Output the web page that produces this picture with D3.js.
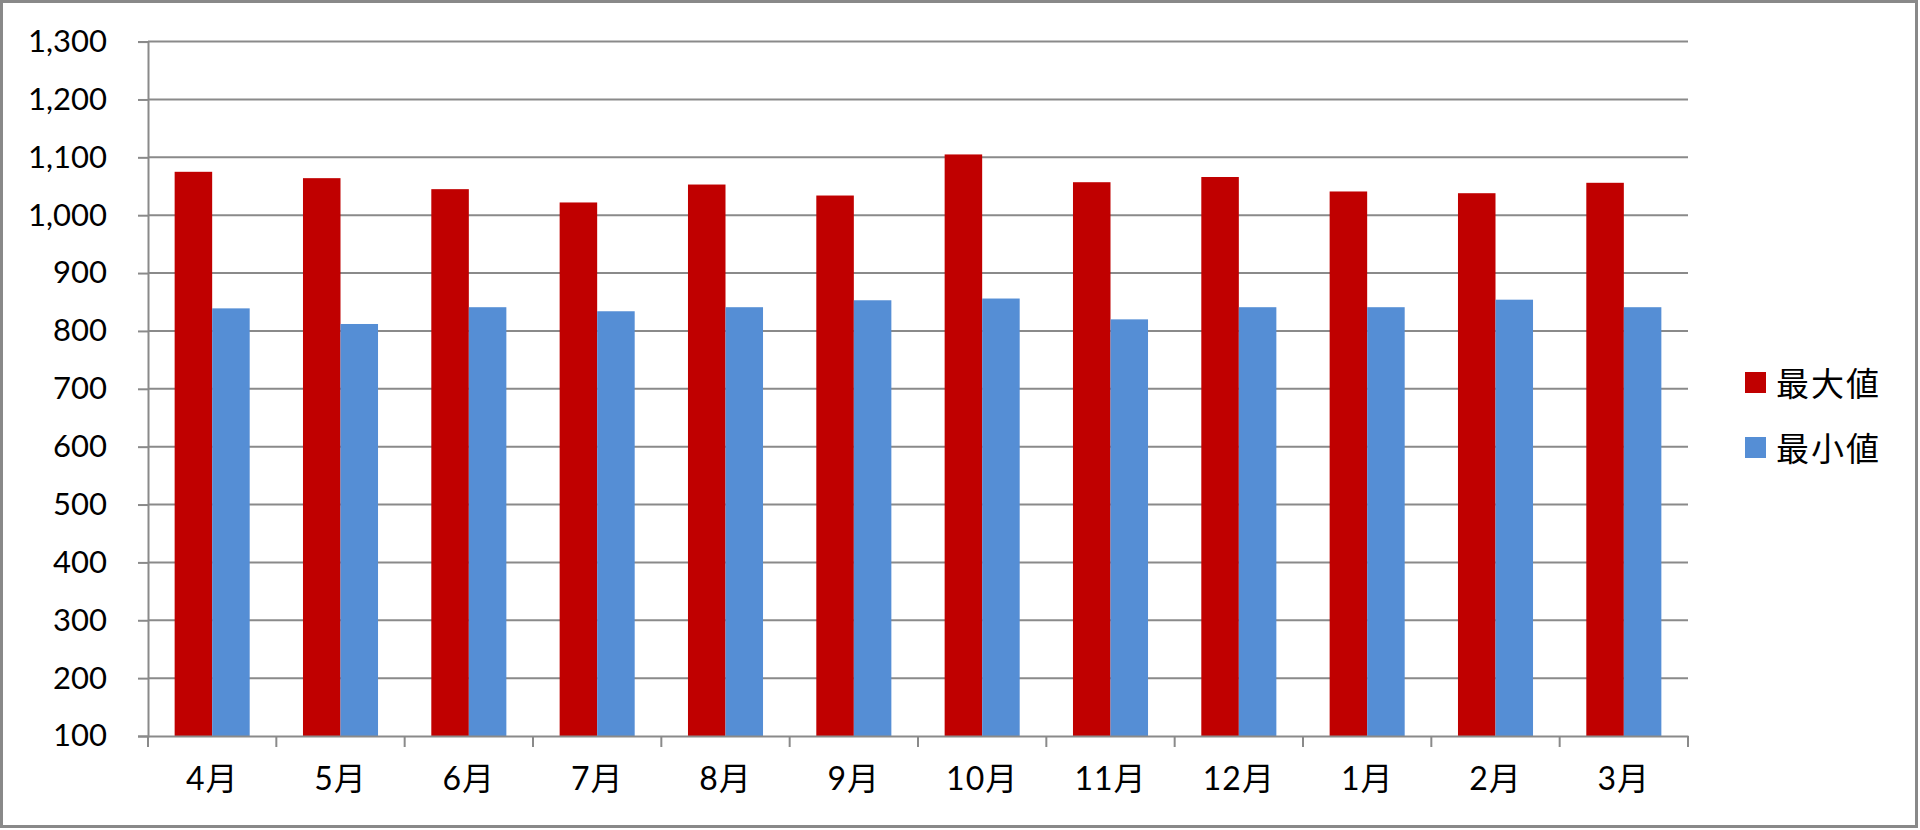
<!DOCTYPE html>
<html>
<head>
<meta charset="utf-8">
<script src="https://cdn.jsdelivr.net/npm/d3@7/dist/d3.min.js"></script>
<style>
  html, body { margin: 0; padding: 0; background: #fff; }
  svg { display: block; }
  text { font-family: Lato, "Noto Sans CJK JP", sans-serif; fill: #000; }
</style>
</head>
<body>
<svg id="chart" width="1920" height="830"></svg>
<script>
const months = ["4月","5月","6月","7月","8月","9月","10月","11月","12月","1月","2月","3月"];
const seriesNames = ["最大値","最小値"];
const maxValues = [1075, 1064, 1045, 1022, 1053, 1034, 1105, 1057, 1066, 1041, 1038, 1056];
const minValues = [839, 812, 841, 834, 841, 853, 856, 820, 841, 841, 854, 841];
const yTicks = [100,200,300,400,500,600,700,800,900,1000,1100,1200,1300];
const colors = ["#C00000", "#558ED5"];

(function () {
const svg = d3.select("#chart");
const W = 1920, H = 830;
const plotLeft = 148, plotRight = 1688, plotTop = 41.6, plotBottom = 736;

// outer border
svg.append("rect").attr("x", 1.5).attr("y", 1.5).attr("width", W - 5).attr("height", H - 5)
  .attr("fill", "#fff").attr("stroke", "#898989").attr("stroke-width", 3);

const y = d3.scaleLinear().domain([100, 1300]).range([plotBottom, plotTop]);
const x0 = d3.scaleBand().domain(months).range([plotLeft, plotRight]).paddingInner(0).paddingOuter(0);
const x1 = d3.scaleBand().domain(seriesNames).range([0, x0.bandwidth()]).paddingInner(0).paddingOuter(0.71);

// gridlines
svg.append("g").selectAll("line").data(yTicks.filter(d => d !== 100)).join("line")
  .attr("x1", plotLeft).attr("x2", plotRight)
  .attr("y1", d => y(d)).attr("y2", d => y(d))
  .attr("stroke", "#8a8a8a").attr("stroke-width", 2);

// bars
const data = months.map((m, i) => ({ month: m, values: [maxValues[i], minValues[i]] }));
const groups = svg.append("g").selectAll("g").data(data).join("g")
  .attr("transform", d => `translate(${x0(d.month)},0)`);
groups.selectAll("rect").data(d => seriesNames.map((s, j) => ({ s, v: d.values[j], j }))).join("rect")
  .attr("x", d => x1(d.s)).attr("width", x1.bandwidth())
  .attr("y", d => y(d.v)).attr("height", d => y(100) - y(d.v))
  .attr("fill", d => colors[d.j]);

// y axis
const yAxis = d3.axisLeft(y).tickValues(yTicks).tickSize(10).tickPadding(31)
  .tickFormat(d3.format(","));
const gy = svg.append("g").attr("transform", `translate(${plotLeft},0)`).call(yAxis);
gy.select(".domain").attr("stroke", "#8a8a8a").attr("stroke-width", 2);
gy.selectAll(".tick line").attr("stroke", "#8a8a8a").attr("stroke-width", 2);
gy.selectAll(".tick text").attr("font-size", 31).attr("font-family", "Lato, 'Noto Sans CJK JP', sans-serif").attr("fill", "#000");

// x axis
const xAxis = d3.axisBottom(x0).tickSize(0).tickPadding(0);
const gx = svg.append("g").attr("transform", `translate(0,${plotBottom})`).call(xAxis);
gx.select(".domain").attr("stroke", "#8a8a8a").attr("stroke-width", 2);
gx.selectAll(".tick text").attr("font-size", 32).attr("dy", "1.68em").attr("letter-spacing", 1)
  .attr("font-family", "Lato, 'Noto Sans CJK JP', sans-serif").attr("fill", "#000");
// category boundary ticks
const bounds = months.map(m => x0(m)).concat([x0(months[months.length - 1]) + x0.bandwidth()]);
gx.append("g").selectAll("line").data(bounds).join("line")
  .attr("x1", d => d).attr("x2", d => d).attr("y1", 0).attr("y2", 11)
  .attr("stroke", "#8a8a8a").attr("stroke-width", 2);

// legend
const legend = svg.append("g").selectAll("g").data(seriesNames).join("g")
  .attr("transform", (d, i) => `translate(1745,${372 + i * 65})`);
legend.append("rect").attr("width", 21).attr("height", 21).attr("fill", (d, i) => colors[i]);
legend.append("text").attr("x", 31).attr("y", 11).attr("dominant-baseline", "central")
  .attr("font-size", 33).attr("font-family", "'Noto Sans CJK JP', sans-serif").attr("letter-spacing", 2)
  .text(d => d);
})();
</script>
</body>
</html>
